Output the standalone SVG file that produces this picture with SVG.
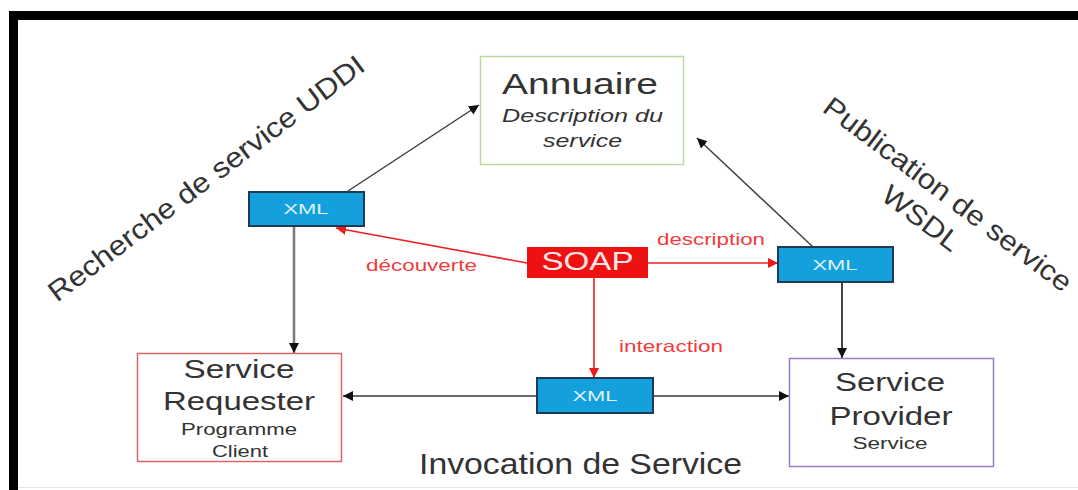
<svg xmlns="http://www.w3.org/2000/svg" width="1078" height="490" viewBox="0 0 1078 490">
<style>
text{font-family:"Liberation Sans",Arial,sans-serif;}
.t{fill:#333;text-anchor:middle;}
.r{fill:#f03c3c;font-size:17px;}
.x{fill:#dff3ff;font-size:14px;text-anchor:middle;}
.xml{fill:#14a0dc;stroke:#1d3b57;stroke-width:2;}
.k{stroke:#3a3a3a;stroke-width:1.4;fill:none;}
.rl{stroke:#f02020;stroke-width:1.6;fill:none;}
</style>
<defs>
<marker id="ab" viewBox="0 0 10 10" refX="10" refY="5" markerWidth="10" markerHeight="10" markerUnits="userSpaceOnUse" orient="auto"><path d="M0,0 L10,5 L0,10 z" fill="#111"/></marker>
<marker id="ar" viewBox="0 0 10 10" refX="10" refY="5" markerWidth="10" markerHeight="10" markerUnits="userSpaceOnUse" orient="auto"><path d="M0,0 L10,5 L0,10 z" fill="#f01818"/></marker>
</defs>
<rect x="0" y="0" width="1078" height="490" fill="#ffffff"/>
<rect x="9" y="11" width="1069" height="9" fill="#000"/>
<rect x="9" y="11" width="9" height="479" fill="#000"/>
<line x1="18" y1="487.5" x2="1078" y2="487.5" stroke="#e6e6e6" stroke-width="1"/>

<g id="label-uddi" transform="translate(206,178) rotate(-37)">
<text class="t" x="0" y="10" font-size="28" textLength="388" lengthAdjust="spacingAndGlyphs">Recherche de service UDDI</text>
</g>
<g id="label-wsdl" transform="translate(948,194) rotate(37)">
<text class="t" x="0" y="10" font-size="28" textLength="303" lengthAdjust="spacingAndGlyphs">Publication de service</text>
<text class="t" x="-7" y="45" font-size="28" textLength="90" lengthAdjust="spacingAndGlyphs">WSDL</text>
</g>

<g id="connectors">
<line class="k" x1="348" y1="191" x2="479" y2="105" marker-end="url(#ab)"/>
<line class="k" x1="813" y1="247" x2="697" y2="138" marker-end="url(#ab)"/>
<line x1="294" y1="227" x2="294" y2="353" stroke="#7a7a7a" stroke-width="2.5" marker-end="url(#ab)"/>
<line x1="842" y1="283" x2="842" y2="358" stroke="#444" stroke-width="2" marker-end="url(#ab)"/>
<line class="rl" x1="527" y1="263" x2="336" y2="228" marker-end="url(#ar)"/>
<line class="rl" x1="648" y1="263" x2="778" y2="263" marker-end="url(#ar)"/>
<line class="rl" x1="594" y1="278" x2="594" y2="378" marker-end="url(#ar)"/>
<line class="k" x1="537" y1="396" x2="343" y2="396" marker-end="url(#ab)"/>
<line class="k" x1="653" y1="396" x2="789" y2="396" marker-end="url(#ab)"/>
<text class="r" x="366" y="271" textLength="111" lengthAdjust="spacingAndGlyphs">découverte</text>
<text class="r" x="657" y="245" textLength="108" lengthAdjust="spacingAndGlyphs">description</text>
<text class="r" x="619" y="352" textLength="104" lengthAdjust="spacingAndGlyphs">interaction</text>
</g>

<g id="annuaire">
<rect x="480.5" y="56.5" width="203" height="108" fill="#fff" stroke="#b9da9f" stroke-width="1.5"/>
<text class="t" x="580" y="94" font-size="30" textLength="156" lengthAdjust="spacingAndGlyphs">Annuaire</text>
<text class="t" x="582.5" y="122" font-size="18" font-style="italic" textLength="161" lengthAdjust="spacingAndGlyphs">Description du</text>
<text class="t" x="582.5" y="147" font-size="18" font-style="italic" textLength="79" lengthAdjust="spacingAndGlyphs">service</text>
</g>

<g id="xml-left">
<rect class="xml" x="249" y="192" width="115" height="34"/>
<text class="x" x="306" y="214" textLength="45" lengthAdjust="spacingAndGlyphs">XML</text>
</g>

<g id="xml-right">
<rect class="xml" x="778" y="247" width="115" height="35"/>
<text class="x" x="835" y="270" textLength="45" lengthAdjust="spacingAndGlyphs">XML</text>
</g>

<g id="xml-bottom">
<rect class="xml" x="537" y="378" width="116" height="35"/>
<text class="x" x="595" y="401" textLength="45" lengthAdjust="spacingAndGlyphs">XML</text>
</g>

<g id="soap">
<rect x="527" y="247" width="121" height="31" fill="#ee1111"/>
<text x="587.5" y="270" font-size="26" fill="#ffe6e6" text-anchor="middle" textLength="92" lengthAdjust="spacingAndGlyphs">SOAP</text>
</g>

<g id="requester">
<rect x="137.5" y="353.5" width="204" height="108" fill="#fff" stroke="#e06464" stroke-width="1.5"/>
<text class="t" x="239" y="378" font-size="26" textLength="111" lengthAdjust="spacingAndGlyphs">Service</text>
<text class="t" x="239" y="410" font-size="26" textLength="152" lengthAdjust="spacingAndGlyphs">Requester</text>
<text class="t" x="239" y="435" font-size="16" textLength="116" lengthAdjust="spacingAndGlyphs">Programme</text>
<text class="t" x="240" y="457" font-size="16" textLength="56" lengthAdjust="spacingAndGlyphs">Client</text>
</g>

<g id="provider">
<rect x="789.5" y="358.5" width="204" height="108" fill="#fff" stroke="#9a7cc6" stroke-width="1.5"/>
<text class="t" x="890" y="391" font-size="26" textLength="110" lengthAdjust="spacingAndGlyphs">Service</text>
<text class="t" x="891" y="425" font-size="26" textLength="123" lengthAdjust="spacingAndGlyphs">Provider</text>
<text class="t" x="890" y="449" font-size="16" textLength="75" lengthAdjust="spacingAndGlyphs">Service</text>
</g>

<text id="invocation" class="t" x="580.5" y="474" font-size="29" textLength="323" lengthAdjust="spacingAndGlyphs">Invocation de Service</text>
</svg>
